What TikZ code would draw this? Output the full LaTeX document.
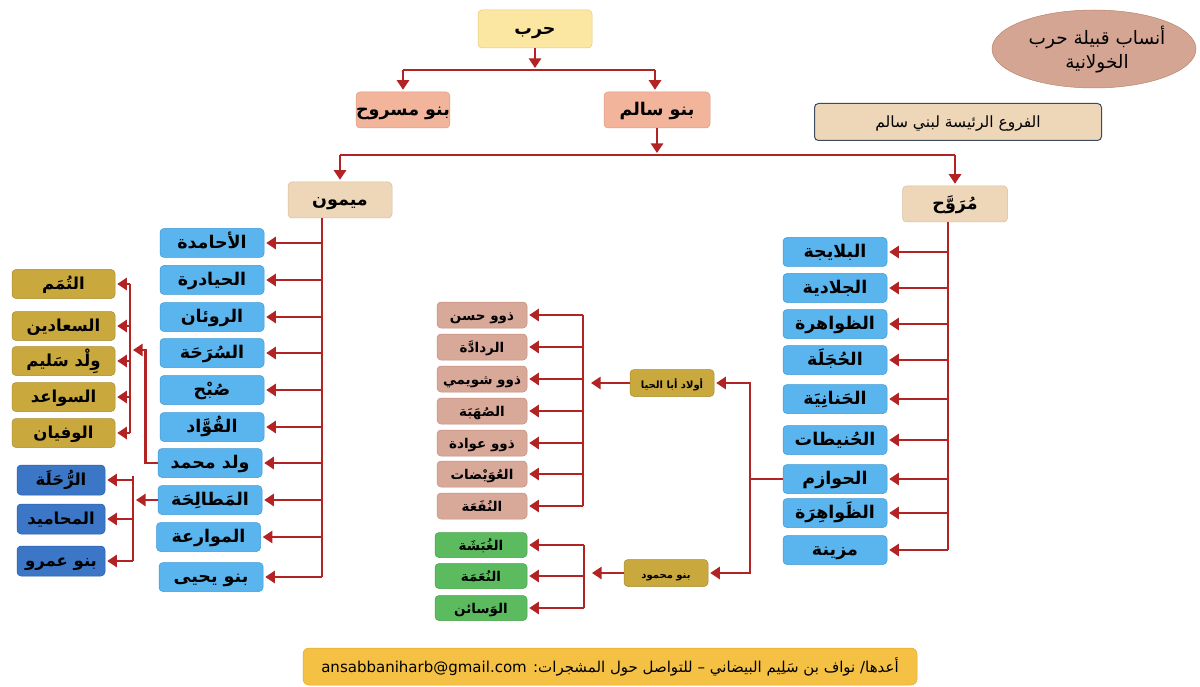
\documentclass[tikz,border=0pt]{standalone}
\usepackage{fontspec}
\usetikzlibrary{arrows.meta,shapes.geometric}
\TeXXeTstate=1
\newfontfamily\arabicfont[Script=Arabic]{DejaVu Sans}
\newcommand\artxt[1]{{\arabicfont\bfseries\beginR #1\endR}}
\definecolor{harbY}{HTML}{FBE6A2}
\definecolor{harbYd}{HTML}{E9C877}
\definecolor{salm}{HTML}{F2B49B}
\definecolor{salmd}{HTML}{DE9A80}
\definecolor{tan}{HTML}{EED7B8}
\definecolor{tand}{HTML}{D9BE9C}
\definecolor{sky}{HTML}{5AB5EE}
\definecolor{skyd}{HTML}{3E9AD6}
\definecolor{olive}{HTML}{C9A93E}
\definecolor{olived}{HTML}{A88B2C}
\definecolor{navy}{HTML}{3B77C6}
\definecolor{navyd}{HTML}{2B5FA6}
\definecolor{rose}{HTML}{D8A899}
\definecolor{rosed}{HTML}{C08E7E}
\definecolor{grn}{HTML}{5DBB5F}
\definecolor{grnd}{HTML}{449F46}
\definecolor{redc}{HTML}{B42323}
\definecolor{gold}{HTML}{F4C145}
\definecolor{goldd}{HTML}{E0AA2C}
\definecolor{ellc}{HTML}{D4A592}
\definecolor{elld}{HTML}{B98571}
\definecolor{frame}{HTML}{3E4A5E}
\begin{document}
\begin{tikzpicture}[x=1pt,y=-1pt,
  bx/.style={rounded corners=4pt, inner sep=0pt, text=black, line width=0.5pt, text height=1.15em, text depth=0pt, font=\fontsize{17.5}{20}\selectfont},
  topbox/.style={bx, minimum height=37pt},
  bluebox/.style={bx, fill=sky, draw=skyd, minimum width=104pt, minimum height=29pt},
  olivebox/.style={bx, fill=olive, draw=olived, minimum width=103pt, minimum height=29pt, font=\fontsize{16.5}{19}\selectfont},
  navybox/.style={bx, fill=navy, draw=navyd, minimum width=88pt, minimum height=30pt, font=\fontsize{16.5}{19}\selectfont},
  rosebox/.style={bx, fill=rose, draw=rosed, minimum width=90pt, minimum height=26pt, font=\fontsize{13.5}{16}\selectfont},
  grnbox/.style={bx, fill=grn, draw=grnd, minimum width=92pt, minimum height=25pt, font=\fontsize{13.5}{16}\selectfont},
  smallbox/.style={bx, fill=olive, draw=olived, minimum width=84pt, minimum height=27pt, font=\fontsize{10}{12}\selectfont},
  ln/.style={draw=redc, line width=2.6pt},
  arr/.style={draw=redc, line width=2.6pt, shorten >=2pt, -{Triangle[length=9.5pt,width=12pt]}},
]
\useasboundingbox (0,0) rectangle (1200,687);
\fill[white] (0,0) rectangle (1200,687);

% title ellipse and label
\node[ellipse, fill=ellc, draw=elld, line width=0.5pt, minimum width=204pt, minimum height=78pt, inner sep=0pt] (title) at (1094,49) {};
\node[align=center, inner sep=0pt, font=\fontsize{18.5}{24}\selectfont] (titletext) at (1097,50)
  {{\arabicfont\beginR أنساب قبيلة حرب\endR}\\{\arabicfont\beginR الخولانية\endR}};
\node[bx, fill=tan, draw=frame, line width=1pt, minimum width=287pt, minimum height=37pt, font=\fontsize{15.5}{19}\selectfont] (branches) at (958,122)
  {{\arabicfont\beginR الفروع الرئيسة لبني سالم\endR}};

% top levels
\node[topbox, fill=harbY, draw=harbYd, minimum width=114pt, minimum height=38pt] (harb) at (535,29) {\artxt{حرب}};
\node[topbox, fill=salm, draw=salmd, minimum width=90pt, minimum height=36pt] (masruh) at (403,110) {\artxt{بنو مسروح}};
\node[topbox, fill=salm, draw=salmd, minimum width=106pt, minimum height=36pt] (salim) at (657,110) {\artxt{بنو سالم}};
\node[topbox, fill=tan, draw=tand, minimum width=104pt, minimum height=36pt] (maymun) at (340,200) {\artxt{ميمون}};
\node[topbox, fill=tan, draw=tand, minimum width=105pt, minimum height=36pt] (mrw) at (955,204) {\artxt{مُرَوَّح}};

\coordinate (hl) at (403,70);
\coordinate (hr) at (655,70);
\draw[arr] (harb.south) -- (harb.south |- hl);
\draw[ln] (hl) -- (hr);
\draw[arr] (hl) -- (masruh.north);
\draw[arr] (hr) -- (hr |- salim.north);

\coordinate (ml) at (340,155);
\coordinate (mr) at (955,155);
\draw[arr] (salim.south) -- (salim.south |- ml);
\draw[ln] (ml) -- (mr);
\draw[arr] (ml) -- (maymun.north);
\draw[arr] (mr) -- (mrw.north);

% Maymun column
\node[bluebox] (m1) at (212,243) {\artxt{الأحامدة}};
\node[bluebox] (m2) at (212,280) {\artxt{الحيادرة}};
\node[bluebox] (m3) at (212,317) {\artxt{الروئان}};
\node[bluebox] (m4) at (212,353) {\artxt{السُرَحَة}};
\node[bluebox] (m5) at (212,390) {\artxt{صُبْح}};
\node[bluebox] (m6) at (212,427) {\artxt{القُوَّاد}};
\node[bluebox] (m7) at (210,463) {\artxt{ولد محمد}};
\node[bluebox] (m8) at (210,500) {\artxt{المَطالِحَة}};
\node[bluebox] (m9) at (208.5,537) {\artxt{الموارعة}};
\node[bluebox] (m10) at (211,577) {\artxt{بنو يحيى}};
\coordinate (lt) at (322,218);
\draw[ln] (lt) -- (lt |- m10.east);
\foreach \n in {m1,m2,m3,m4,m5,m6,m7,m8,m9,m10}
  \draw[arr] (lt |- \n.east) -- (\n.east);

% Olive sub-branches of Wuld Muhammad
\node[olivebox] (y1) at (63.5,284) {\artxt{التُمَم}};
\node[olivebox] (y2) at (63.5,326) {\artxt{السعادين}};
\node[olivebox] (y3) at (63.5,361) {\artxt{وِلْد سَليم}};
\node[olivebox] (y4) at (63.5,397) {\artxt{السواعد}};
\node[olivebox] (y5) at (63.5,433) {\artxt{الوفيان}};
\coordinate (yb) at (130,284);
\draw[ln] (yb) -- (yb |- y5.east);
\foreach \n in {y1,y2,y3,y4,y5}
  \draw[arr] (yb |- \n.east) -- (\n.east);
\coordinate (ybin) at (131,350);
\draw[arr] (m7.west) -- ++(-12,0) |- (ybin);

% Navy sub-branches of Matalha
\node[navybox] (n1) at (61,480) {\artxt{الرُّحَلَة}};
\node[navybox] (n2) at (61,519) {\artxt{المحاميد}};
\node[navybox] (n3) at (61,561) {\artxt{بنو عمرو}};
\coordinate (nb) at (133,476);
\draw[ln] (nb) -- (nb |- n3.east);
\foreach \n in {n1,n2,n3}
  \draw[arr] (nb |- \n.east) -- (\n.east);
\draw[arr] (m8.west) -- (134,500);

% Murawwah column
\node[bluebox] (r1) at (835,252) {\artxt{البلايجة}};
\node[bluebox] (r2) at (835,288) {\artxt{الجلادية}};
\node[bluebox] (r3) at (835,324) {\artxt{الظواهرة}};
\node[bluebox] (r4) at (835,360) {\artxt{الحُجَلَة}};
\node[bluebox] (r5) at (835,399) {\artxt{الحَنانِيَة}};
\node[bluebox] (r6) at (835,440) {\artxt{الحُنيطات}};
\node[bluebox] (r7) at (835,479) {\artxt{الحوازم}};
\node[bluebox] (r8) at (835,513) {\artxt{الظَواهِرَة}};
\node[bluebox] (r9) at (835,550) {\artxt{مزينة}};
\coordinate (rt) at (948,222);
\draw[ln] (rt) -- (rt |- r9.east);
\foreach \n in {r1,r2,r3,r4,r5,r6,r7,r8,r9}
  \draw[arr] (rt |- \n.east) -- (\n.east);

% Hawazim sub-branches
\node[smallbox] (awlad) at (672,383) {\artxt{أولاد أبا الحيا}};
\node[smallbox] (mahmud) at (666,573) {\artxt{بنو محمود}};
\coordinate (hj) at (750,479);
\draw[ln] (r7.west) -- (hj);
\draw[arr] (hj) |- (awlad.east);
\draw[arr] (hj) |- (mahmud.east);

\node[rosebox] (b1) at (482,315) {\artxt{ذوو حسن}};
\node[rosebox] (b2) at (482,347) {\artxt{الردادَّة}};
\node[rosebox] (b3) at (482,379) {\artxt{ذوو شويمي}};
\node[rosebox] (b4) at (482,411) {\artxt{الصُهَبَة}};
\node[rosebox] (b5) at (482,443) {\artxt{ذوو عوادة}};
\node[rosebox] (b6) at (482,474) {\artxt{العُوَيْضات}};
\node[rosebox] (b7) at (482,506) {\artxt{النُفَعَة}};
\coordinate (bb) at (583,315);
\draw[ln] (bb) -- (bb |- b7.east);
\foreach \n in {b1,b2,b3,b4,b5,b6,b7}
  \draw[arr] (bb |- \n.east) -- (\n.east);
\draw[arr] (awlad.west) -- (589,383);

\node[grnbox] (g1) at (481,545) {\artxt{الغُبَشَة}};
\node[grnbox] (g2) at (481,576) {\artxt{النُعَمَة}};
\node[grnbox] (g3) at (481,608) {\artxt{الوَسائن}};
\coordinate (gb) at (584,545);
\draw[ln] (gb) -- (gb |- g3.east);
\foreach \n in {g1,g2,g3}
  \draw[arr] (gb |- \n.east) -- (\n.east);
\draw[arr] (mahmud.west) -- (590,573);

% footer
\node[bx, rounded corners=6pt, fill=gold, draw=goldd, minimum width=614pt, minimum height=37pt, font=\fontsize{15}{18}\selectfont] (footer) at (610,666.5)
  {{\arabicfont\beginR أعدها/ نواف بن سَلِيم البيضاني – للتواصل حول المشجرات: \beginL ansabbaniharb@gmail.com\endL\endR}};
\end{tikzpicture}
\end{document}
